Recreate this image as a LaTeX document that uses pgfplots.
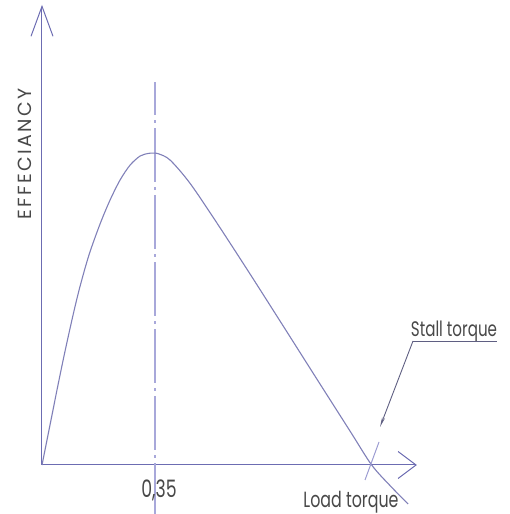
\documentclass[border=0pt]{standalone}
\usepackage{pgfplots}
\pgfplotsset{compat=1.18}
\usepackage{fontspec}
\setmainfont{Poppins}
\newfontfamily\narrowfont[FakeStretch=0.72]{Poppins}
\newfontfamily\wideFont[LetterSpace=12]{Poppins}
\usetikzlibrary{arrows.meta}
\definecolor{axiscol}{RGB}{108,108,178}
\definecolor{curvecol}{RGB}{128,128,184}
\definecolor{dashcol}{RGB}{168,168,218}
\definecolor{textcol}{RGB}{72,72,72}
\definecolor{leadcol}{RGB}{95,95,130}
\begin{document}
\begin{tikzpicture}
\useasboundingbox (-42pt,-49pt) rectangle (467pt,465pt);
\begin{axis}[
  at={(0pt,0pt)}, anchor=origin,
  x=322.9pt, y=322.9pt,
  xmin=0, xmax=1.161, ymin=0, ymax=1.425,
  axis lines=left,
  axis line style={draw=axiscol, line width=1pt},
  x axis line style={-{Straight Barb[length=18pt,width=27pt,line width=1pt]}},
  y axis line style={-{Straight Barb[length=30pt,width=22pt,line width=1pt]}},
  ticks=none, clip=false,
]
\addplot[dashcol, line width=1.1pt, dash pattern=on 54pt off 5pt on 3pt off 5pt, dash phase=21pt]
  coordinates {(0.35,1.186) (0.35,-0.152)};
\addplot[curvecol, line width=1.1pt, smooth, tension=0.5] coordinates {
(0,0) (0.030,0.150) (0.050,0.250) (0.071,0.351) (0.097,0.468) (0.118,0.554)
(0.146,0.652) (0.180,0.747) (0.211,0.821) (0.242,0.883) (0.273,0.929)
(0.304,0.957) (0.330,0.965) (0.345,0.966) (0.36,0.964) (0.396,0.945)
(0.458,0.873) (0.542,0.749) (0.644,0.592) (0.746,0.432) (0.852,0.265)
(0.954,0.105) (1.021,0.0) (1.080,-0.066) (1.134,-0.121)
};
\end{axis}
% annotations (pt relative to origin: x = px-42, y = 465-py)
\node[rotate=90, text=textcol, font=\wideFont\fontsize{19}{19}\selectfont, anchor=center] at (-17pt,311pt) {EFFECIANCY};
\node[text=textcol, font=\narrowfont\fontsize{24}{24}\selectfont, anchor=base] at (117pt,-32pt) {0,35};
\node[text=textcol, font=\narrowfont\fontsize{22}{22}\selectfont, anchor=base] at (309pt,-42pt) {Load torque};
\node[text=textcol, font=\narrowfont\fontsize{21}{21}\selectfont, anchor=base] at (412pt,128pt) {Stall torque};
\draw[leadcol, line width=0.9pt] (371pt,124pt) -- (455pt,124pt);
\draw[leadcol, line width=0.9pt, -{Stealth[length=10pt,width=3pt]}] (371pt,124pt) -- (338pt,38pt);
\draw[dashcol!80!axiscol, line width=1pt] (337pt,23pt) -- (323pt,-15pt);
\end{tikzpicture}
\end{document}
